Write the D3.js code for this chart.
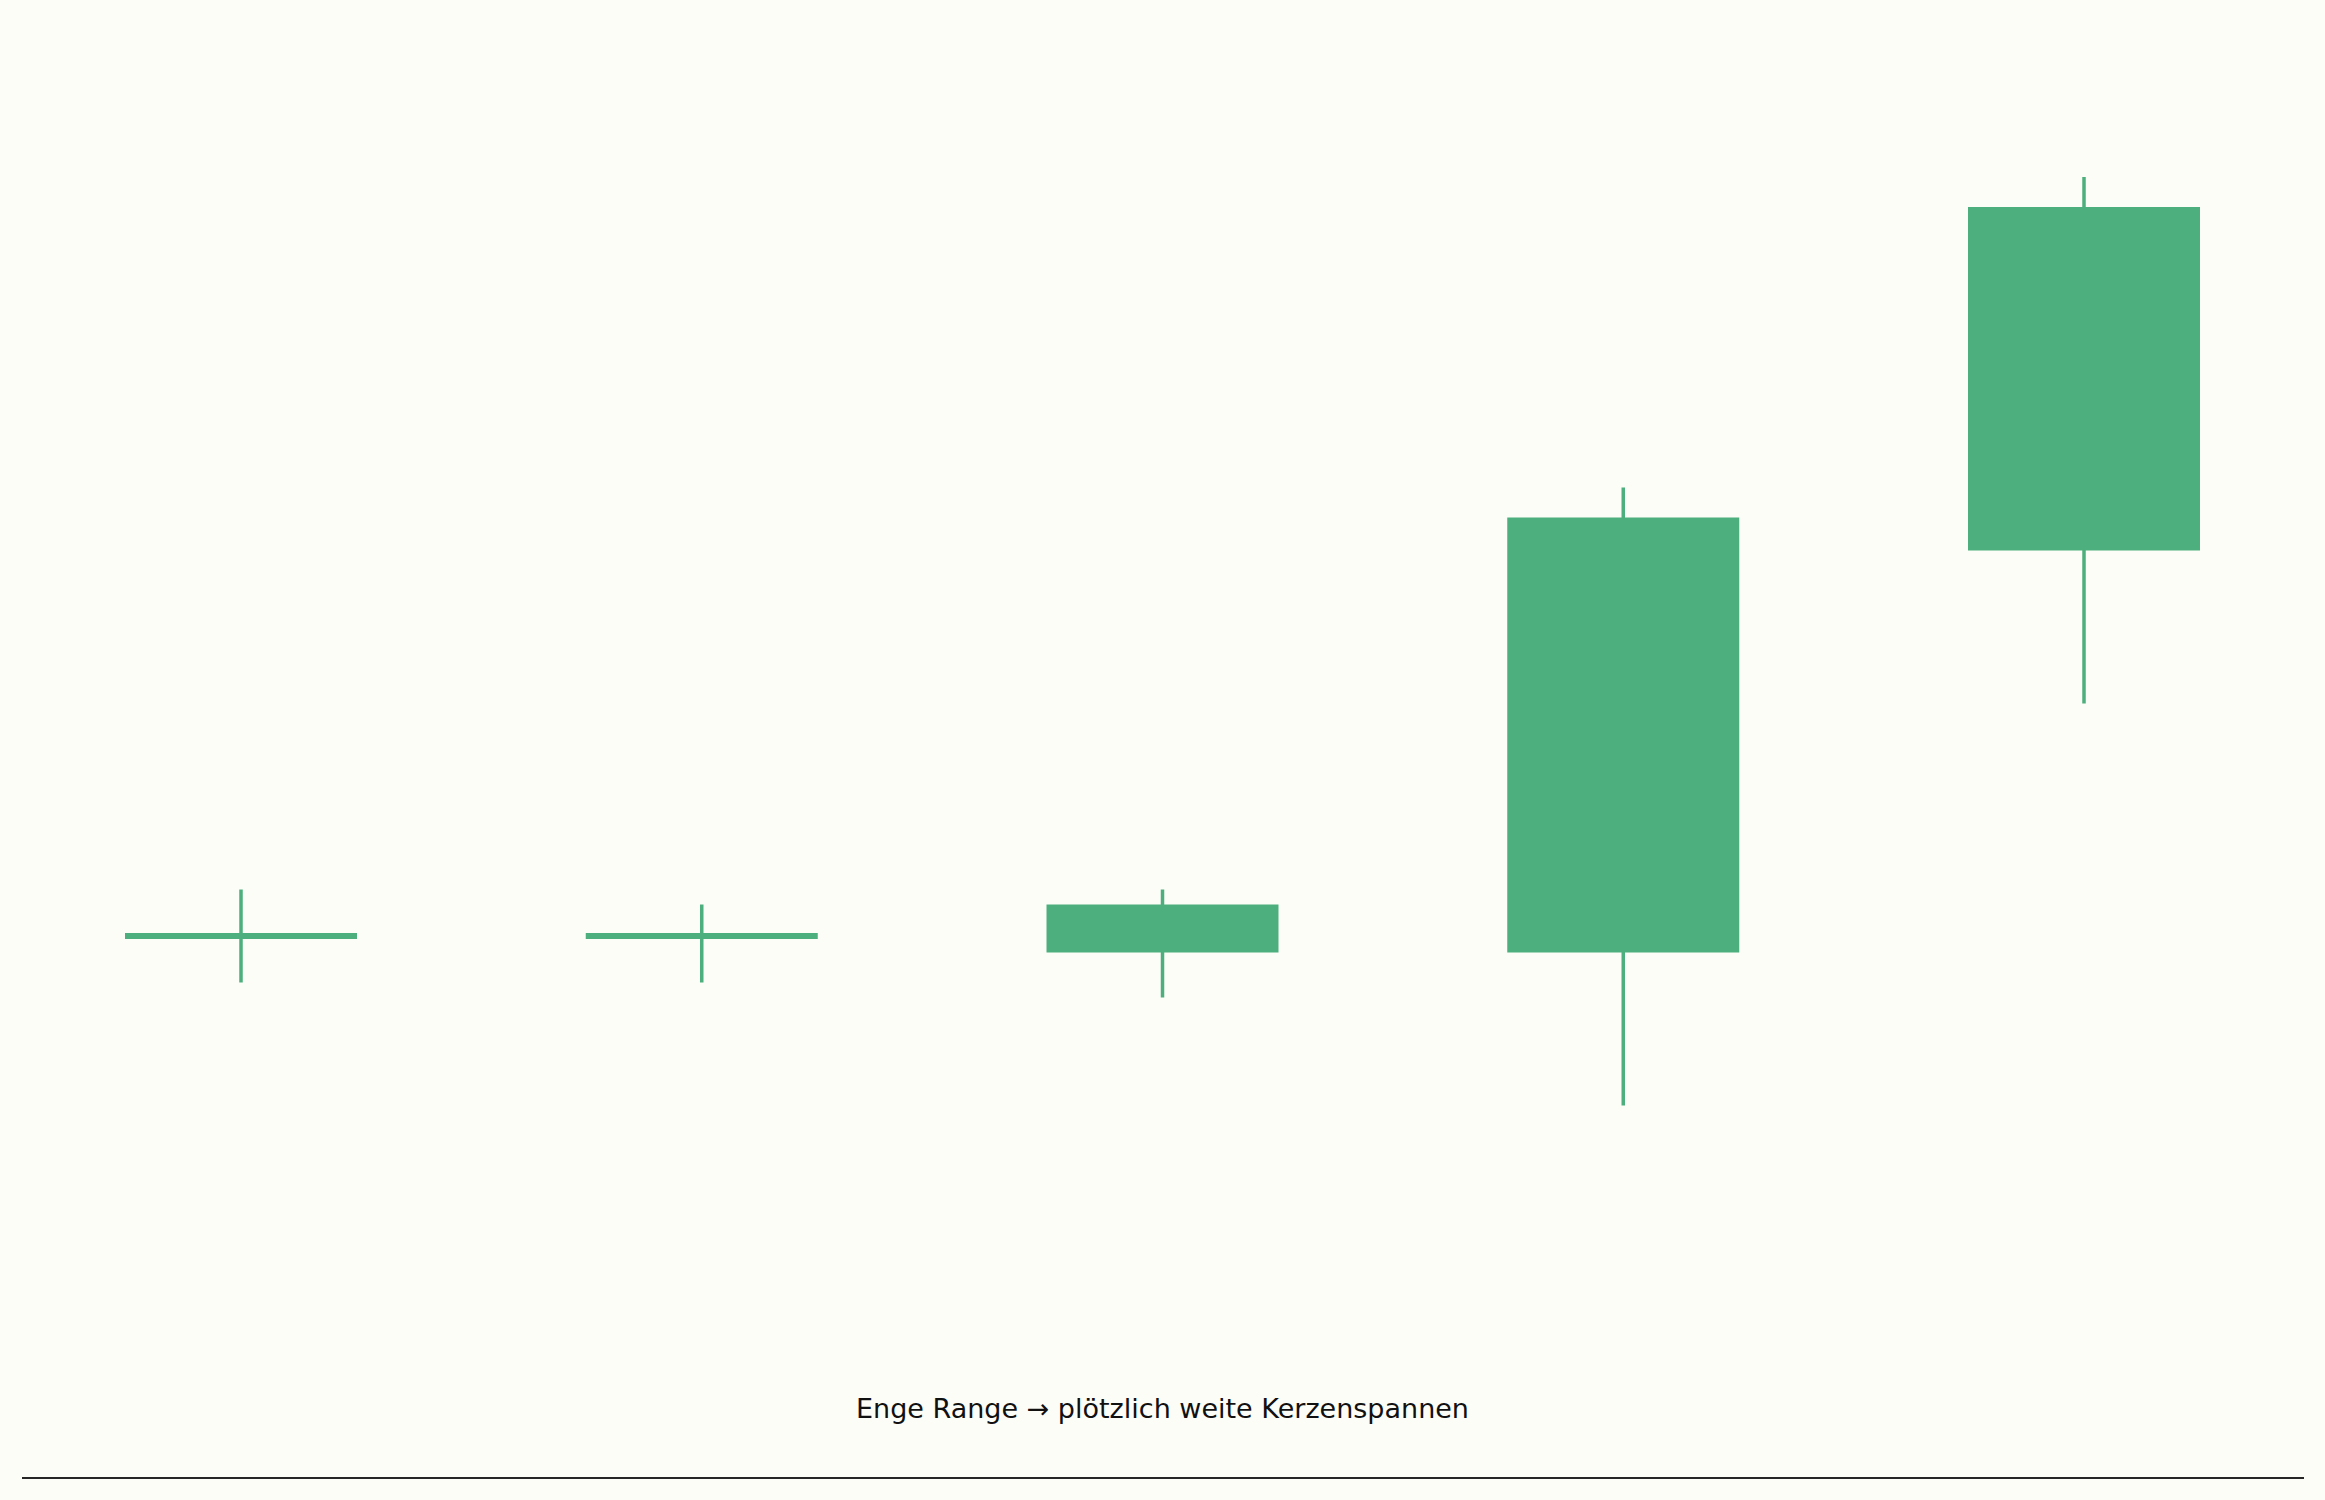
<!DOCTYPE html>
<html>
<head>
<meta charset="utf-8">
<script src="https://cdn.jsdelivr.net/npm/d3@7"></script>
<style>
  html, body { margin: 0; padding: 0; background: #fdfdf8; }
  svg { display: block; }
</style>
</head>
<body>
<script>
// candle data
const days  = [1, 2, 3, 4, 5];
const opens  = [100.0, 100.0, 98.9, 98.9, 125.7];
const closes = [100.0, 100.0, 102.1, 127.9, 148.6];
const highs  = [103.1, 102.1, 103.1, 129.9, 150.6];
const lows   = [96.9, 96.9, 95.9, 88.7, 115.5];
const caption = "Enge Range \u2192 plötzlich weite Kerzenspannen";

const width = 2325, height = 1500;
const green = "#4caf7d";

const data = days.map((d, i) => ({day: d, o: opens[i], c: closes[i], h: highs[i], l: lows[i]}));

const svg = d3.select("body").append("svg")
  .attr("width", width)
  .attr("height", height);

svg.append("rect").attr("width", width).attr("height", height).attr("fill", "#fdfdf8");

// x: one slot per candle
const x = d3.scalePoint().domain(days).range([241, 2084]);
const bodyW = 232;

// y: price -> pixels
const y = d3.scaleLinear().domain([80, 160]).range([1236, 36]);

const g = svg.append("g");

// wicks
g.selectAll("line.wick")
  .data(data)
  .enter()
  .append("line")
  .attr("class", "wick")
  .attr("x1", d => x(d.day))
  .attr("x2", d => x(d.day))
  .attr("y1", d => y(d.h))
  .attr("y2", d => y(d.l))
  .attr("stroke", green)
  .attr("stroke-width", 3.5);

// bodies (doji gets a thin bar)
g.selectAll("rect.body")
  .data(data)
  .enter()
  .append("rect")
  .attr("class", "body")
  .attr("x", d => x(d.day) - bodyW / 2)
  .attr("width", bodyW)
  .attr("y", d => {
    const top = y(Math.max(d.o, d.c)), bot = y(Math.min(d.o, d.c));
    return bot - top < 6 ? (top + bot) / 2 - 3 : top;
  })
  .attr("height", d => Math.max(6, y(Math.min(d.o, d.c)) - y(Math.max(d.o, d.c))))
  .attr("fill", green);

// caption
svg.append("text")
  .attr("x", width / 2)
  .attr("y", 1418)
  .attr("text-anchor", "middle")
  .attr("font-family", "DejaVu Sans, sans-serif")
  .attr("font-size", 27)
  .attr("fill", "#111")
  .text(caption);

// bottom rule
svg.append("line")
  .attr("x1", 22).attr("x2", 2304)
  .attr("y1", 1478).attr("y2", 1478)
  .attr("stroke", "#262626")
  .attr("stroke-width", 2);
</script>
</body>
</html>
